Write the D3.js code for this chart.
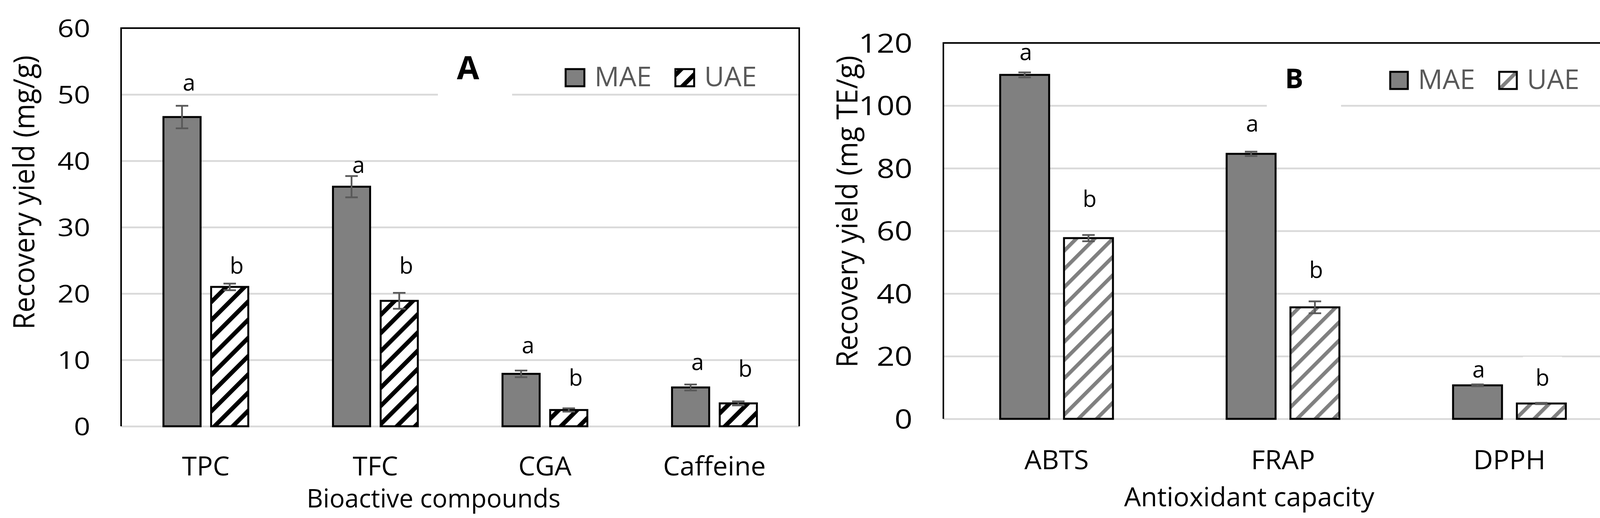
<!DOCTYPE html>
<html>
<head>
<meta charset="utf-8">
<script src="https://cdn.jsdelivr.net/npm/d3@7"></script>
<style>
  body { margin: 0; background: #fff; }
  svg { display: block; font-family: "Open Sans", Lato, sans-serif; }
</style>
</head>
<body>
<svg id="chart" width="4181" height="1327" viewBox="0 0 4181 1327"></svg>
<script>
// panel A - bioactive compounds (mg/g)
var catsA = ['TPC', 'TFC', 'CGA', 'Caffeine'];
var maeA = [46.6, 36.1, 7.9, 5.85];
var uaeA = [21.0, 18.9, 2.45, 3.45];
var maeErrA = [1.7, 1.6, 0.5, 0.45];
var uaeErrA = [0.5, 1.2, 0.25, 0.3];
var maeLetterA = ['a', 'a', 'a', 'a'];
var uaeLetterA = ['b', 'b', 'b', 'b'];
var maeLetterYA = [50.6, 38.2, 11.0, 8.5];   // where the letters sit, in mg/g
var uaeLetterYA = [23.0, 23.0, 6.1, 7.5];
var ticksA = [0, 10, 20, 30, 40, 50, 60];

// panel B - antioxidant capacity (mg TE/g)
var catsB = ['ABTS', 'FRAP', 'DPPH'];
var maeB = [109.8, 84.6, 10.7];
var uaeB = [57.7, 35.6, 4.9];
var maeErrB = [0.8, 0.7, 0.3];
var uaeErrB = [1.0, 1.9, 0.2];
var maeLetterB = ['a', 'a', 'a'];
var uaeLetterB = ['b', 'b', 'b'];
var maeLetterYB = [114.5, 91.7, 13.2];
var uaeLetterYB = [67.7, 45.0, 10.6];
var ticksB = [0, 20, 40, 60, 80, 100, 120];

var series = ['MAE', 'UAE'];

var svg = d3.select('#chart');
svg.append('rect').attr('width', 4181).attr('height', 1327).attr('fill', '#fff');

var defs = svg.append('defs');
function stripes(id, color, thick) {
    var p = defs.append('pattern')
        .attr('id', id)
        .attr('patternUnits', 'userSpaceOnUse')
        .attr('width', 33).attr('height', 33)
        .attr('patternTransform', 'rotate(45)');
    p.append('rect').attr('width', 33).attr('height', 33).attr('fill', '#fff');
    p.append('rect').attr('width', thick).attr('height', 33).attr('fill', color);
}
stripes('hatchA', '#000', 11);
stripes('hatchB', '#808080', 9.5);

// widen glyphs a bit, the original picture is stretched sideways
function stretch(sel, sx, rot) {
    sel.each(function() {
        var t = d3.select(this);
        var x = +t.attr('x') || 0, y = +t.attr('y') || 0;
        t.attr('x', 0).attr('y', 0)
            .attr('transform', 'translate(' + x + ',' + y + ') scale(' + sx + ',1)' + (rot ? ' rotate(' + rot + ')' : ''));
    });
}

function drawPanel(p) {
    var g = svg.append('g');
    var y = d3.scaleLinear().domain([0, p.ymax]).range([p.bottom, p.top]);
    var x = d3.scaleBand().domain(p.cats).range([p.left, p.right]);
    var bw = x.bandwidth();
    var xs = d3.scaleBand().domain(series)
        .range([bw * p.groupPad, bw * (1 - p.groupPad)])
        .paddingInner(p.innerPad);

    // gridlines
    g.append('g')
        .attr('transform', 'translate(' + p.left + ',0)')
        .call(d3.axisLeft(y).tickValues(p.ticks).tickSize(-(p.right - p.left)).tickFormat(''))
        .call(function(s) { s.select('.domain').remove(); })
        .selectAll('line')
        .attr('stroke', '#d9d9d9')
        .attr('stroke-width', 4.5);

    // white box under the panel letter
    g.append('rect')
        .attr('x', p.titleX + p.titleBoxDx - 95).attr('width', 190)
        .attr('y', p.top + 4).attr('height', y(p.titleBoxTo) - p.top + 6)
        .attr('fill', '#fff');

    var rows = [];
    p.cats.forEach(function(c, i) {
        rows.push({cat: c, s: 'MAE', v: p.mae[i], e: p.maeErr[i], l: p.maeLetter[i], ly: p.maeLetterY[i], boxed: false});
        rows.push({cat: c, s: 'UAE', v: p.uae[i], e: p.uaeErr[i], l: p.uaeLetter[i], ly: p.uaeLetterY[i], boxed: p.boxedUae.indexOf(i) >= 0});
    });
    function cx(d) { return x(d.cat) + xs(d.s) + xs.bandwidth() / 2; }

    // letter labels sitting on a white box
    rows.filter(function(d) { return d.boxed; }).forEach(function(d) {
        g.append('rect')
            .attr('x', cx(d) + p.letterDx - 50).attr('width', 100)
            .attr('y', y(d.ly) - 74).attr('height', 86)
            .attr('fill', '#fff');
    });

    // bars
    g.selectAll('rect.bar').data(rows).enter().append('rect')
        .attr('class', 'bar')
        .attr('x', function(d) { return x(d.cat) + xs(d.s) + 2.5; })
        .attr('width', xs.bandwidth() - 5)
        .attr('y', function(d) { return y(d.v); })
        .attr('height', function(d) { return y(0) - y(d.v); })
        .attr('fill', function(d) { return d.s === 'MAE' ? '#808080' : 'url(#' + p.hatch + ')'; })
        .attr('stroke', '#000')
        .attr('stroke-width', 5);

    // error bars
    var eb = g.selectAll('g.err').data(rows).enter().append('g')
        .attr('class', 'err')
        .attr('stroke', '#595959')
        .attr('stroke-width', 4.5);
    eb.append('line')
        .attr('x1', cx).attr('x2', cx)
        .attr('y1', function(d) { return y(d.v + d.e); })
        .attr('y2', function(d) { return y(d.v - d.e); });
    [1, -1].forEach(function(sgn) {
        eb.append('line')
            .attr('x1', function(d) { return cx(d) - 16; })
            .attr('x2', function(d) { return cx(d) + 16; })
            .attr('y1', function(d) { return y(d.v + sgn * d.e); })
            .attr('y2', function(d) { return y(d.v + sgn * d.e); });
    });

    // significance letters
    g.selectAll('text.letter').data(rows).enter().append('text')
        .attr('class', 'letter')
        .attr('x', function(d) { return cx(d) + p.letterDx; })
        .attr('y', function(d) { return y(d.ly); })
        .attr('text-anchor', 'middle')
        .attr('font-size', 58)
        .attr('fill', '#000')
        .text(function(d) { return d.l; })
        .call(stretch, 1.0);

    // plot frame, bottom edge stays grey
    g.append('path')
        .attr('d', 'M' + p.left + ',' + p.bottom + 'V' + p.top + 'H' + p.right + 'V' + p.bottom)
        .attr('fill', 'none')
        .attr('stroke', '#000')
        .attr('stroke-width', 4);

    // y tick labels
    var ya = g.append('g')
        .attr('transform', 'translate(' + p.left + ',0)')
        .call(d3.axisLeft(y).tickValues(p.ticks).tickSize(0).tickPadding(79));
    ya.select('.domain').remove();
    ya.selectAll('text')
        .attr('font-family', '"Open Sans", Lato, sans-serif')
        .attr('font-size', p.yTickSize)
        .attr('fill', '#000')
        .attr('dy', '0.36em')
        .call(stretch, 1.18);

    // x tick labels
    g.selectAll('text.cat').data(p.cats).enter().append('text')
        .attr('class', 'cat')
        .attr('x', function(c) { return x(c) + bw / 2; })
        .attr('y', p.xTickY)
        .attr('text-anchor', 'middle')
        .attr('font-size', p.xTickSize)
        .attr('fill', '#000')
        .text(function(c) { return c; })
        .call(stretch, 1.02);

    // axis titles
    g.append('text')
        .attr('x', p.xTitleX).attr('y', p.xTitleY)
        .attr('text-anchor', 'middle')
        .attr('font-size', p.xTitleSize)
        .attr('fill', '#000')
        .text(p.xTitle)
        .call(stretch, 1.0);
    g.append('text')
        .attr('x', p.yTitleX).attr('y', p.yTitleY)
        .attr('text-anchor', 'middle')
        .attr('font-size', 71)
        .attr('fill', '#000')
        .text(p.yTitle)
        .call(stretch, 1.05, -90);

    // panel letter
    g.append('text')
        .attr('x', p.titleX).attr('y', p.titleY)
        .attr('text-anchor', 'middle')
        .attr('font-size', p.titleSize)
        .attr('font-weight', 'bold')
        .attr('fill', '#000')
        .text(p.title)
        .call(stretch, 1.0);

    // legend
    var lg = g.append('g');
    series.forEach(function(s, i) {
        lg.append('rect')
            .attr('x', p.legendX[i]).attr('y', p.legendY - 44)
            .attr('width', p.legendBox).attr('height', 44)
            .attr('fill', s === 'MAE' ? '#808080' : 'url(#' + p.hatch + ')')
            .attr('stroke', '#000')
            .attr('stroke-width', 5);
        lg.append('text')
            .attr('x', p.legendX[i] + p.legendBox + 26).attr('y', p.legendY)
            .attr('font-size', 70)
            .attr('fill', '#595959')
            .text(s)
            .call(stretch, 1.0);
    });
}

drawPanel({
    cats: catsA, mae: maeA, uae: uaeA, maeErr: maeErrA, uaeErr: uaeErrA,
    maeLetter: maeLetterA, uaeLetter: uaeLetterA, maeLetterY: maeLetterYA, uaeLetterY: uaeLetterYA,
    ticks: ticksA, ymax: 60,
    left: 310, right: 2046, top: 72, bottom: 1092,
    groupPad: 0.244, innerPad: 0.18, hatch: 'hatchA', letterDx: 18, boxedUae: [],
    yTickSize: 62, xTickSize: 67, xTickY: 1218,
    xTitle: 'Bioactive compounds', xTitleX: 1110, xTitleY: 1300, xTitleSize: 65,
    yTitle: 'Recovery yield (mg/g)', yTitleX: 88, yTitleY: 493,
    title: 'A', titleX: 1198, titleY: 203, titleSize: 83, titleBoxDx: 18, titleBoxTo: 50,
    legendX: [1448, 1729], legendY: 221, legendBox: 48
});

drawPanel({
    cats: catsB, mae: maeB, uae: uaeB, maeErr: maeErrB, uaeErr: uaeErrB,
    maeLetter: maeLetterB, uaeLetter: uaeLetterB, maeLetterY: maeLetterYB, uaeLetterY: uaeLetterYB,
    ticks: ticksB, ymax: 120,
    left: 2415, right: 4154, top: 110, bottom: 1073,
    groupPad: 0.2467, innerPad: 0.2025, hatch: 'hatchB', letterDx: 3, boxedUae: [2],
    yTickSize: 68, xTickSize: 68, xTickY: 1202,
    xTitle: 'Antioxidant capacity', xTitleX: 3198, xTitleY: 1297, xTitleSize: 68,
    yTitle: 'Recovery yield (mg TE/g)', yTitleX: 2195, yTitleY: 542,
    title: 'B', titleX: 3313, titleY: 226, titleSize: 70, titleBoxDx: 25, titleBoxTo: 100,
    legendX: [3559, 3838], legendY: 228, legendBox: 45
});
</script>
</body>
</html>
